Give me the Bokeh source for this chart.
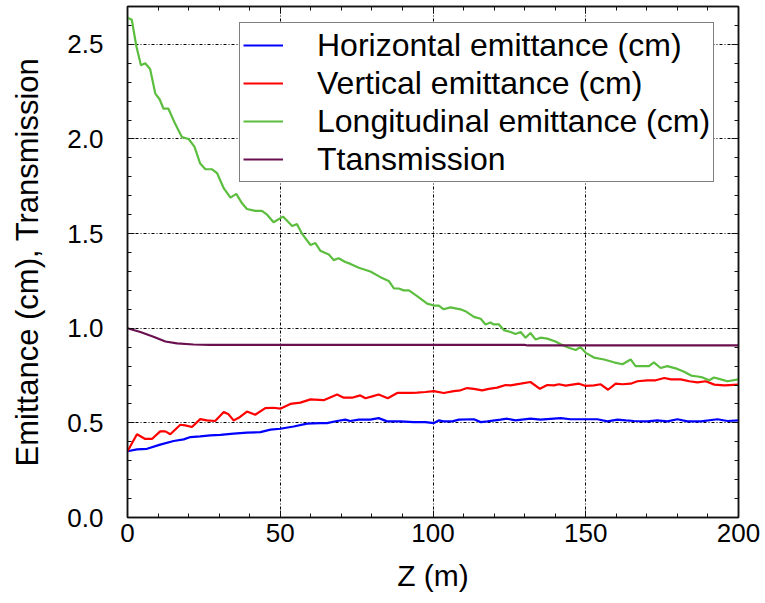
from bokeh.plotting import figure
from bokeh.models import (Range1d, FixedTicker, LinearAxis, Legend, LegendItem,
                          CustomJSTickFormatter, PrintfTickFormatter)
from bokeh.embed import file_html
from bokeh.resources import INLINE

# Beam emittances and transmission along the channel, Z in metres
z_long = [0, 1.4, 2.9, 4.4, 5.8, 7.4, 9.1, 10.5, 11.8, 13.4, 15.6, 17.8, 20, 21.9, 23.8,
          25.5, 27.7, 29.3, 31.5, 33.7, 35.6, 37.5, 39.1, 41.8, 44, 45.7, 47.8, 50.9,
          53.9, 55.5, 57.1, 59.9, 61.5, 63.1, 65.9, 67.5, 69.1, 71.3, 73, 75.7, 79.5,
          82.8, 85.5, 87.2, 88.8, 90.4, 92.1, 94.8, 98.1, 100.3, 101.9, 103.5, 105.7,
          109, 110.6, 113.4, 115.6, 117.2, 118.8, 119.9, 121.6, 123.2, 125.4, 127,
          128.7, 130.3, 131.9, 133.6, 135.2, 137.4, 140.1, 141.8, 144, 146.7, 148.3,
          150, 152.7, 156, 159.2, 162, 164.7, 166.3, 168.5, 170.7, 172.3, 174.5, 176.7,
          180, 182.2, 184.5, 186.6, 188.2, 190.4, 192, 194.2, 196.4, 200]
longitudinal = [2.64, 2.63, 2.49, 2.39, 2.40, 2.37, 2.24, 2.21, 2.16, 2.16, 2.08, 2.01,
                2.00, 1.96, 1.87, 1.84, 1.84, 1.82, 1.74, 1.69, 1.71, 1.66, 1.63, 1.62,
                1.62, 1.60, 1.56, 1.59, 1.54, 1.55, 1.50, 1.44, 1.45, 1.41, 1.39, 1.36,
                1.37, 1.35, 1.34, 1.32, 1.30, 1.27, 1.25, 1.21, 1.21, 1.20, 1.20, 1.17,
                1.13, 1.12, 1.12, 1.10, 1.11, 1.10, 1.09, 1.06, 1.05, 1.02, 1.03, 1.02,
                1.02, 0.99, 0.98, 0.97, 0.98, 0.95, 0.975, 0.94, 0.95, 0.945, 0.93,
                0.915, 0.90, 0.885, 0.90, 0.87, 0.845, 0.835, 0.82, 0.81, 0.835, 0.80,
                0.80, 0.80, 0.82, 0.79, 0.80, 0.785, 0.77, 0.75, 0.745, 0.74, 0.725,
                0.74, 0.73, 0.72, 0.73]

z_vert = [0, 3.1, 5.8, 8, 10.7, 12.4, 14, 17.3, 18.9, 21.1, 23.8, 26, 28.7, 31.5, 33.1,
          34.7, 36.4, 39.1, 41.8, 45.1, 47.8, 50, 53.3, 56.6, 59.9, 64.2, 68.6, 70.8,
          73.5, 76.2, 77.9, 80.1, 82.2, 85.2, 88.3, 92.6, 94.8, 97.5, 100.3, 103.5,
          106.8, 109, 111.2, 113.4, 116.1, 118.3, 121, 123.8, 125.4, 128.7, 131.9, 135,
          137.4, 139.6, 141.2, 143.4, 147.8, 150, 152.7, 154.9, 157.3, 159.8, 162,
          164.7, 166.9, 170.2, 172.9, 175.7, 177.9, 181.1, 183.9, 186.6, 189.3, 192.1,
          195.4, 200]
vertical = [0.35, 0.44, 0.415, 0.415, 0.455, 0.455, 0.44, 0.49, 0.487, 0.478, 0.52,
            0.513, 0.51, 0.557, 0.545, 0.513, 0.527, 0.56, 0.543, 0.578, 0.58, 0.575,
            0.60, 0.607, 0.624, 0.62, 0.65, 0.633, 0.633, 0.645, 0.63, 0.64, 0.65, 0.63,
            0.658, 0.658, 0.66, 0.663, 0.668, 0.658, 0.668, 0.672, 0.684, 0.68, 0.672,
            0.68, 0.686, 0.70, 0.698, 0.707, 0.716, 0.68, 0.70, 0.698, 0.704, 0.697,
            0.707, 0.695, 0.698, 0.704, 0.675, 0.707, 0.704, 0.707, 0.72, 0.725, 0.725,
            0.737, 0.73, 0.73, 0.72, 0.714, 0.72, 0.702, 0.698, 0.702]

z_horiz = [0, 3.1, 6.4, 10.7, 15.1, 18.4, 20.6, 23.8, 27.1, 30.4, 34.7, 39.1, 43.5, 46.8,
           50, 54.4, 58.8, 63.1, 65.3, 68.6, 71.3, 72.9, 75.7, 79.5, 82.2, 85, 89.4,
           93.7, 97.5, 100.3, 101.9, 103.5, 106.3, 108.5, 113.4, 115.6, 117.8, 122.1,
           124.3, 127, 131.9, 135.2, 141.8, 145, 149.4, 153.8, 157.1, 160.4, 163.1,
           165.8, 170.2, 173.4, 176.7, 180, 183.3, 187.7, 193.1, 196.4, 200]
horizontal = [0.35, 0.36, 0.363, 0.385, 0.404, 0.413, 0.425, 0.429, 0.434, 0.437, 0.443,
              0.448, 0.451, 0.464, 0.469, 0.481, 0.496, 0.499, 0.499, 0.51, 0.517, 0.51,
              0.517, 0.517, 0.525, 0.508, 0.508, 0.504, 0.504, 0.499, 0.513, 0.508,
              0.508, 0.517, 0.519, 0.504, 0.508, 0.517, 0.522, 0.513, 0.522, 0.517,
              0.525, 0.519, 0.519, 0.519, 0.508, 0.517, 0.513, 0.51, 0.508, 0.513,
              0.508, 0.519, 0.508, 0.508, 0.519, 0.51, 0.513]

z_trans = [0, 4.2, 8.5, 12.4, 16.2, 21.6, 27, 40, 80, 130, 131, 170, 200]
transmission = [1.0, 0.98, 0.955, 0.93, 0.92, 0.914, 0.912, 0.912, 0.912, 0.912, 0.909,
                0.909, 0.909]

x_ticks = [0, 50, 100, 150, 200]
x_minor = list(range(0, 201, 10))
y_ticks = [0.0, 0.5, 1.0, 1.5, 2.0, 2.5]
y_minor = [i / 10 for i in range(0, 28)]

series_names = ["Horizontal emittance (cm)", "Vertical emittance (cm)",
                "Longitudinal emittance (cm)", "Ttansmission"]
colors = ["#0000ff", "#ff0000", "#5cbe3e", "#6a1050"]

FONT = "Liberation Sans"

p = figure(width=765, height=603, output_backend="svg", toolbar_location=None,
           x_range=Range1d(0, 200), y_range=Range1d(0, 2.7),
           min_border_left=127, min_border_right=27, min_border_top=6,
           min_border_bottom=86)
p.background_fill_color = "white"
p.border_fill_color = "white"
p.outline_line_color = "#111111"
p.outline_line_width = 1.5

r_h = p.line(z_horiz, horizontal, line_color=colors[0], line_width=2.2)
r_v = p.line(z_vert, vertical, line_color=colors[1], line_width=2.2)
r_l = p.line(z_long, longitudinal, line_color=colors[2], line_width=2.2)
r_t = p.line(z_trans, transmission, line_color=colors[3], line_width=2.2)


def style_axis(ax, ticks, minor):
    ax.ticker = FixedTicker(ticks=ticks, minor_ticks=minor)
    ax.major_tick_in = 7
    ax.major_tick_out = 0
    ax.minor_tick_in = 4
    ax.minor_tick_out = 0
    ax.major_tick_line_color = "#111111"
    ax.minor_tick_line_color = "#111111"
    ax.axis_line_color = "#111111"
    ax.axis_line_width = 1.5
    ax.major_label_text_font = FONT
    ax.major_label_text_font_size = "26px"
    ax.major_label_text_color = "black"
    ax.axis_label_text_font = FONT
    ax.axis_label_text_font_style = "normal"
    ax.axis_label_text_color = "black"


xa = p.xaxis[0]
style_axis(xa, x_ticks, x_minor)
xa.axis_label = "Z (m)"
xa.axis_label_text_font_size = "30px"
xa.major_label_standoff = 6
xa.axis_label_standoff = 14

ya = p.yaxis[0]
style_axis(ya, y_ticks, y_minor)
ya.formatter = PrintfTickFormatter(format="%.1f")
ya.axis_label = "Emittance (cm), Transmission"
ya.axis_label_text_font_size = "31px"
ya.major_label_standoff = 24
ya.axis_label_standoff = 19

# tick marks on the opposite edges of the frame, without labels
blank = CustomJSTickFormatter(code="return ''")
top = LinearAxis(formatter=blank)
style_axis(top, x_ticks, x_minor)
top.major_label_text_font_size = "1px"
top.major_label_standoff = 0
p.add_layout(top, "above")
right = LinearAxis(formatter=blank)
style_axis(right, y_ticks, y_minor)
right.major_label_text_font_size = "1px"
right.major_label_standoff = 0
p.add_layout(right, "right")

for g in (p.xgrid[0], p.ygrid[0]):
    g.grid_line_color = "black"
    g.grid_line_width = 1
    g.grid_line_dash = "3 2 1 2"
p.xgrid[0].ticker = FixedTicker(ticks=x_ticks)
p.ygrid[0].ticker = FixedTicker(ticks=y_ticks)

legend = Legend(items=[LegendItem(label=n, renderers=[r])
                       for n, r in zip(series_names, [r_h, r_v, r_l, r_t])],
                location=(112, 335))
legend.label_text_font = FONT
legend.label_text_font_size = "32px"
legend.label_text_color = "black"
legend.glyph_width = 40
legend.glyph_height = 38
legend.label_height = 38
legend.label_standoff = 34
legend.spacing = 0
legend.padding = 3
legend.margin = 0
legend.border_line_color = "black"
legend.border_line_width = 1.5
legend.background_fill_color = "white"
legend.background_fill_alpha = 1
p.add_layout(legend, "center")

open("out.html", "w").write(file_html(p, INLINE))
